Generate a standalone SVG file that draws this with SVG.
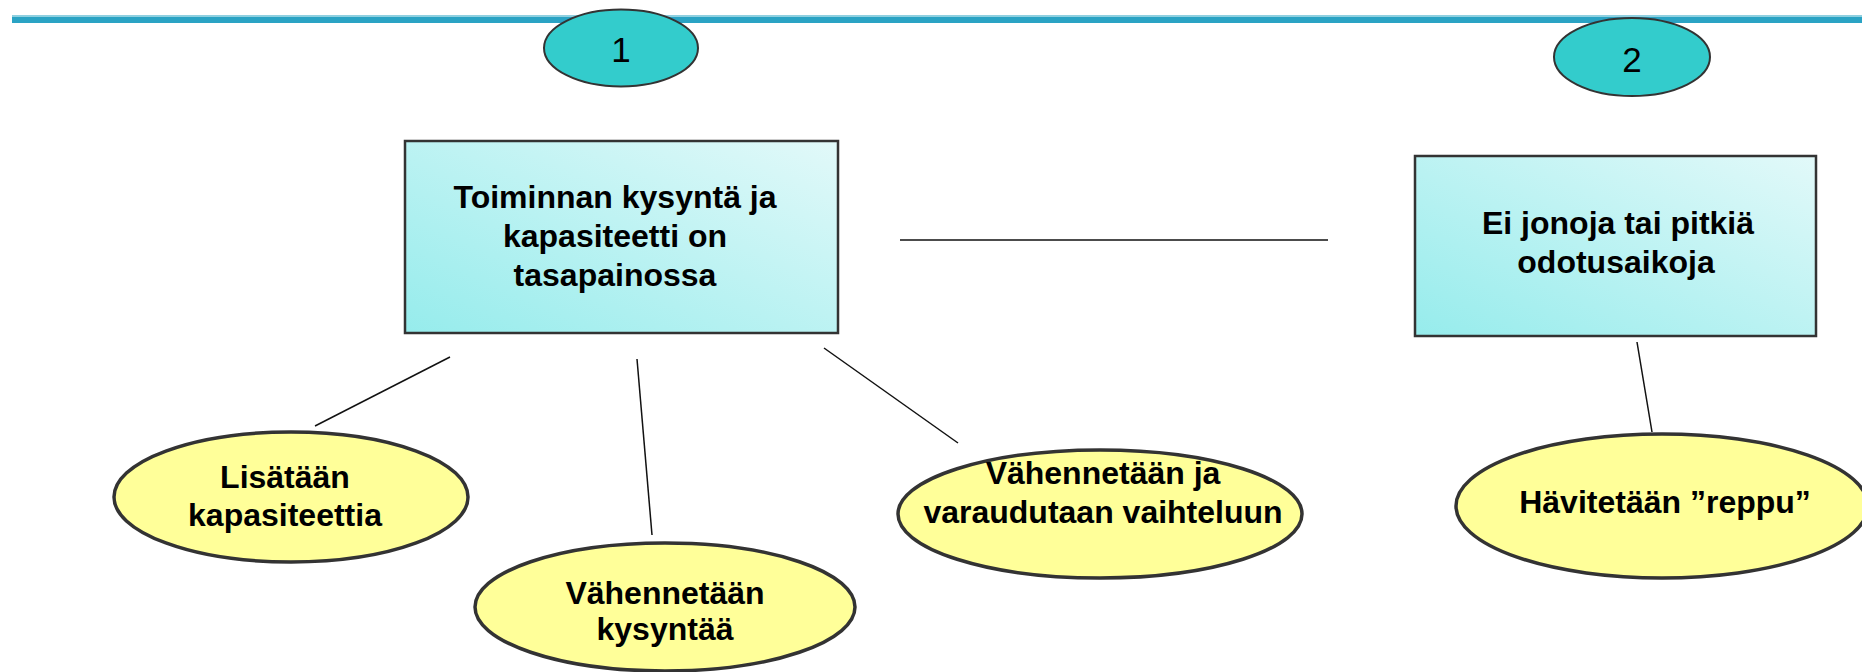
<svg xmlns="http://www.w3.org/2000/svg" width="1862" height="672" viewBox="0 0 1862 672">
<defs>
<linearGradient id="boxGrad" x1="1" y1="0" x2="0" y2="1">
<stop offset="0" stop-color="#e2f9f9"/>
<stop offset="1" stop-color="#96ecec"/>
</linearGradient>
</defs>
<style>
.box{fill:url(#boxGrad);stroke:#333;stroke-width:2.5}
.num{fill:#33cccc;stroke:#333;stroke-width:2}
.oval{fill:#ffff99;stroke:#333;stroke-width:3.5}
.t{font-family:"Liberation Sans",Arial,sans-serif;font-weight:bold;font-size:32px;fill:#000;text-anchor:middle}
.n{font-family:"Liberation Sans",Arial,sans-serif;font-size:35px;fill:#000;text-anchor:middle}
.c{stroke:#111;stroke-width:1.5;fill:none}
</style>
<rect x="12" y="15" width="1850" height="2" fill="#8fd0e0"/>
<rect x="12" y="17" width="1850" height="6" fill="#2aa3c4"/>
<g id="connectors">
<line class="c" x1="900" y1="240" x2="1328" y2="240"/>
<line class="c" x1="450" y1="357" x2="315" y2="426"/>
<line class="c" x1="637" y1="359" x2="652" y2="535"/>
<line class="c" x1="824" y1="348" x2="958" y2="443"/>
<line class="c" x1="1637" y1="342" x2="1652" y2="432"/>
</g>
<g id="num1">
<ellipse class="num" cx="621" cy="48" rx="77" ry="38.5"/>
<text class="n" x="621" y="62">1</text>
</g>
<g id="num2">
<ellipse class="num" cx="1632" cy="57" rx="78" ry="39"/>
<text class="n" x="1632" y="72">2</text>
</g>
<g id="box1">
<rect class="box" x="405" y="141" width="433" height="192"/>
<text class="t" x="615" y="208">Toiminnan kysyntä ja</text>
<text class="t" x="615" y="247">kapasiteetti on</text>
<text class="t" x="615" y="286">tasapainossa</text>
</g>
<g id="box2">
<rect class="box" x="1415" y="156" width="401" height="180"/>
<text class="t" x="1618" y="234">Ei jonoja tai pitkiä</text>
<text class="t" x="1616" y="273">odotusaikoja</text>
</g>
<g id="oval1">
<ellipse class="oval" cx="291" cy="497" rx="177" ry="65"/>
<text class="t" x="285" y="488">Lisätään</text>
<text class="t" x="285" y="526">kapasiteettia</text>
</g>
<g id="oval2">
<ellipse class="oval" cx="665" cy="607" rx="190" ry="64"/>
<text class="t" x="665" y="604">Vähennetään</text>
<text class="t" x="665" y="640">kysyntää</text>
</g>
<g id="oval3">
<ellipse class="oval" cx="1100" cy="514" rx="202" ry="64"/>
<text class="t" x="1103" y="484">Vähennetään ja</text>
<text class="t" x="1103" y="523">varaudutaan vaihteluun</text>
</g>
<g id="oval4">
<ellipse class="oval" cx="1662" cy="506" rx="206" ry="72"/>
<text class="t" x="1665" y="513">Hävitetään ”reppu”</text>
</g>
</svg>
